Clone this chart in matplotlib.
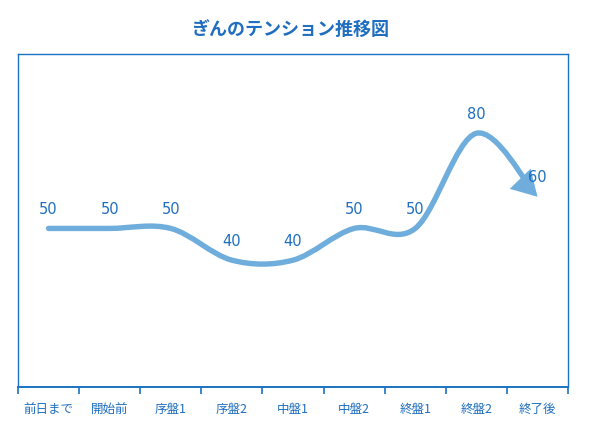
import matplotlib
matplotlib.use("Agg")
import matplotlib.pyplot as plt
from matplotlib.path import Path
from matplotlib.patches import FancyArrowPatch

plt.rcParams["font.family"] = ["Noto Sans CJK JP", "DejaVu Sans"]

stages = ["前日まで", "開始前", "序盤1", "序盤2", "中盤1", "中盤2", "終盤1", "終盤2", "終了後"]
tension = [50, 50, 50, 40, 40, 50, 50, 80, 60]

line_color = "#6FAEDC"
frame_color = "#1A73C2"
text_color = "#1F6EBF"

fig = plt.figure(figsize=(5.94, 4.31), dpi=100)
ax = fig.add_axes([18 / 594, 43 / 431, 550 / 594, 333 / 431])

xs = list(range(len(stages)))
ys = tension

# smoothed line (Catmull-Rom style bezier like a spreadsheet "smooth line")
verts = [(xs[0], ys[0])]
codes = [Path.MOVETO]
n = len(xs)
for i in range(n - 1):
    p0 = (xs[max(i - 1, 0)], ys[max(i - 1, 0)])
    p1 = (xs[i], ys[i])
    p2 = (xs[i + 1], ys[i + 1])
    p3 = (xs[min(i + 2, n - 1)], ys[min(i + 2, n - 1)])
    c1 = (p1[0] + (p2[0] - p0[0]) / 6, p1[1] + (p2[1] - p0[1]) / 6)
    c2 = (p2[0] - (p3[0] - p1[0]) / 6, p2[1] - (p3[1] - p1[1]) / 6)
    verts += [c1, c2, p2]
    codes += [Path.CURVE4] * 3

arrow = FancyArrowPatch(
    path=Path(verts, codes),
    arrowstyle="-|>,head_length=0.55,head_width=0.32",
    mutation_scale=22,
    color=line_color,
    linewidth=3.9,
    capstyle="round",
    joinstyle="miter",
    transform=ax.transData,
)
ax.add_patch(arrow)

for x, y in zip(xs, ys):
    ax.annotate(
        str(y),
        (x, y),
        xytext=(0, 14.5),
        textcoords="offset points",
        ha="center",
        va="center",
        fontsize=10.5,
        color=text_color,
        family="DejaVu Sans",
    )

ax.set_xlim(-0.5, n - 0.5)
ax.set_ylim(0, 105)

ax.set_xticks(xs)
ax.set_xticklabels(stages, fontsize=9, color=text_color)
ax.set_xticks([i - 0.5 for i in range(n + 1)], minor=True)
ax.tick_params(axis="x", which="major", length=0, pad=11)
ax.tick_params(axis="x", which="minor", length=5, width=1.2, color=frame_color)
ax.set_yticks([])

for side in ["left", "right", "top"]:
    ax.spines[side].set_color(frame_color)
    ax.spines[side].set_linewidth(1.0)
ax.spines["bottom"].set_color(frame_color)
ax.spines["bottom"].set_linewidth(1.4)

fig.text(
    290 / 594,
    1 - 30 / 431,
    "ぎんのテンション推移図",
    ha="center",
    va="center",
    fontsize=13,
    fontweight="bold",
    color=text_color,
)

fig.savefig("out.png", dpi=100)
